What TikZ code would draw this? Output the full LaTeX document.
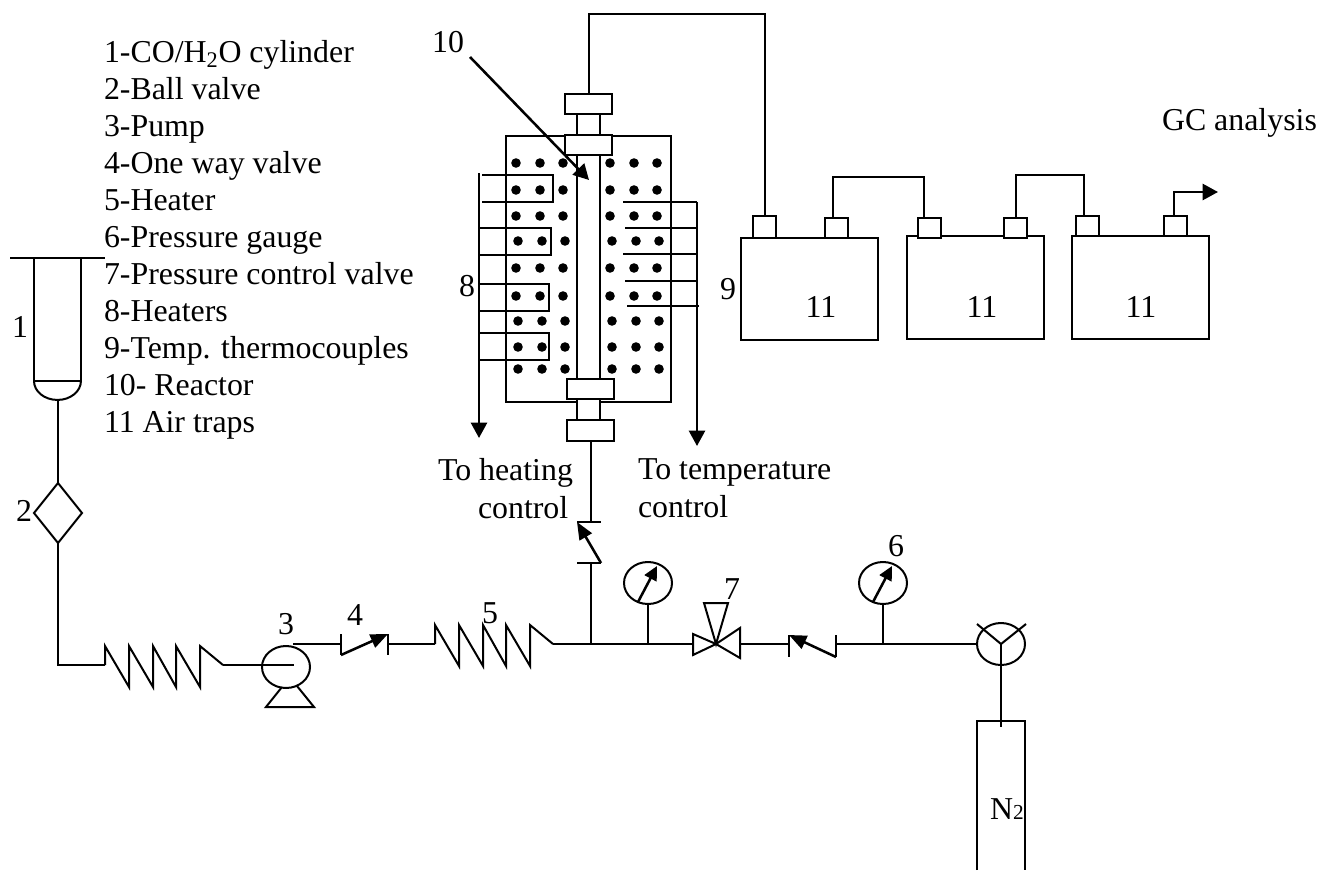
\documentclass[tikz,border=0pt]{standalone}
\usepackage{fontspec}
\setmainfont{Liberation Serif}
\usetikzlibrary{arrows.meta,shapes.geometric}
\tikzset{
  every node/.style={inner sep=0pt,outer sep=0pt,font=\fontsize{23.9}{27}\selectfont},
  pipe/.style={line width=1.5pt},
  flow/.style={line width=1.9pt,-{Triangle[length=11.5pt,width=12pt]}},
  pointer/.style={line width=1.9pt,-{Triangle[length=10.5pt,width=10pt]}},
  checkarrow/.style={line width=1.9pt,-{Triangle[length=13pt,width=10.5pt]}},
  part/.style 2 args={draw,line width=1.5pt,fill=white,rectangle,minimum width=#1*.75pt,minimum height=#2*.75pt},
  dial/.style={draw,line width=1.5pt,ellipse,minimum width=36pt,minimum height=31.5pt},
  txt/.style={anchor=base west},
  pics/coil/.style={code={
    \draw[pipe] (0,0) -- (0,-19) -- (24,22) -- (24,-19) -- (48,22) -- (48,-19) -- (71,22) -- (71,-19) -- (95,22) -- (95,-19) -- (118,0);
    \coordinate (-in) at (0,0);
    \coordinate (-out) at (118,0);
  }}
}

\begin{document}
\begin{tikzpicture}[x=.75pt,y=-.75pt]
  \useasboundingbox (0,0) rectangle (1319,870);

  \foreach \i/\t in {1/{1-CO/H\textsubscript{2}O cylinder},2/2-Ball valve,3/3-Pump,4/4-One way valve,5/5-Heater,
    6/6-Pressure gauge,7/7-Pressure control valve,8/8-Heaters,9/9-Temp. thermocouples,10/10- Reactor,11/11 Air traps}
  {
    \node (item\i) [txt] at (104,{63+36.9*(\i-1)}) {\t};
  }

  % feed cylinder and ball valve
  \node (cylinder) [part={47}{123}] at (57.5,319.5) {};
  \draw[pipe] (cylinder.south west) arc[start angle=180,end angle=360,x radius=17.6pt,y radius=14.2pt];
  \draw[line width=1.9pt] (10,258) -- (cylinder.north west) (cylinder.north east) -- (105,258);
  \coordinate (domebottom) at (58,400);
  \node (ball) [draw,line width=1.5pt,diamond,minimum width=36pt,minimum height=45pt] at (58,513) {};
  \draw[pipe] (domebottom) -- (ball.north);
  \pic (coilA) at (105,665) {coil};
  \draw[pipe] (ball.south) |- (coilA-in);

  % pump
  \node (pump) [dial] at (286,667) {};
  \coordinate (pumpin) at (294,665);
  \coordinate (pumpout) at (293,644);
  \draw[pipe] (coilA-out) -- (pumpin);
  \draw[pipe] (282,687) -- (266,707) -- (314,707) -- (297,686);

  % check valves
  \coordinate (checkAin) at (341,644);
  \coordinate (checkAout) at (388,644);
  \draw[pipe] (pumpout) -- (checkAin);
  \draw[pipe] (341,634) -- (341,655);
  \draw[checkarrow] (341,655) -- (388,634);
  \draw[pipe] (388,634) -- (388,655);
  \pic (coilB) at (435,644) {coil};
  \draw[pipe] (checkAout) -- (coilB-in);

  % main line
  \coordinate (teeA) at (591,644);
  \coordinate (valvein) at (693,644);
  \coordinate (valveout) at (740,644);
  \coordinate (valve) at (716,644);
  \draw[pipe] (coilB-out) -- (valvein);
  \draw[pipe] (693,634) -- (693,655) -- (valve) -- cycle;
  \draw[pipe] (740,628) -- (740,658) -- (valve) -- cycle;
  \draw[pipe] (704,603) -- (728,603) -- (valve) -- cycle;
  \coordinate (checkBin) at (789,644);
  \coordinate (checkBout) at (836,644);
  \draw[pipe] (valveout) -- (checkBin);
  \draw[pipe] (789,635) -- (789,657);
  \draw[checkarrow] (836,657) -- (789,635);
  \draw[pipe] (836,635) -- (836,657);
  \node (threeway) [dial] at (1001,644) {};
  \draw[pipe] (checkBout) -- (threeway.west);
  \draw[pipe] (977,624) -- (threeway.center) -- (1026,624);

  % gauges
  \foreach \g/\x in {gaugeA/648,gaugeB/883}
  {
    \node (\g) [dial] at (\x,583) {};
    \coordinate (\g foot) at (\x,644);
    \draw[pipe] (\g.south) -- (\g foot);
    \draw[pointer] ([shift={(-10,19)}]\g.center) -- ([shift={(9,-17)}]\g.center);
  }

  % nitrogen
  \coordinate (ntop) at (1001,727);
  \draw[pipe] (threeway.center) -- (ntop);
  \draw[pipe] (977,870) -- (977,721) -- (1025,721) -- (1025,870);
  \node (nitrogen) [txt] at (990,819) {N{\fontsize{16}{16}\selectfont 2}};

  % reactor
  \node (furnace) [part={165}{266}] at (588.5,269) {};
  \node (tube) [part={23}{224}] at (588.5,267) {};
  \foreach \y/\d in {163/0,190/0,216/0,241/2,268/0,296/0,321/2,347/2,369/2}
    \foreach \x in {516,540,563,610,634,657}
      \fill (\x+\d,\y) circle[radius=3.6pt];
  \node (flangeA) [part={47}{20}] at (588.5,104) {};
  \node (neckA) [part={23}{21}] at (588.5,125) {};
  \node (flangeB) [part={47}{20}] at (588.5,145) {};
  \node (flangeC) [part={47}{20}] at (590.5,389) {};
  \node (neckB) [part={23}{21}] at (588.5,409.5) {};
  \node (flangeD) [part={47}{21}] at (590.5,430.5) {};

  % heaters
  \draw[flow] (479,173) -- (479,438);
  \draw[pipe] (482,175) -- (553,175) -- (553,202) -- (482,202);
  \draw[pipe] (479,228) -- (551,228) -- (551,255) -- (479,255);
  \draw[pipe] (479,284) -- (549,284) -- (549,311) -- (479,311);
  \draw[pipe] (479,333) -- (549,333) -- (549,360) -- (479,360);

  % thermocouples
  \draw[flow] (697,202) -- (697,446);
  \draw[pipe] (623,202) -- (697,202);
  \draw[pipe] (625,228) -- (697,228);
  \draw[pipe] (623,254) -- (697,254);
  \draw[pipe] (625,281) -- (697,281);
  \draw[pipe] (627,306) -- (699,306);

  % inlet valve under the reactor
  \coordinate (checkCout) at (590.5,522);
  \coordinate (checkCin) at (591,563);
  \draw[pipe] (flangeD.south) -- (checkCout);
  \draw[pipe] (577,522) -- (601,522);
  \draw[checkarrow] (601,563) -- (577,522);
  \draw[pipe] (577,563) -- (601,563);
  \draw[pipe] (checkCin) -- (teeA);

  % air traps
  \node (trapA) [part={137}{102}] at (809.5,289) {};
  \node (trapB) [part={137}{103}] at (975.5,287.5) {};
  \node (trapC) [part={137}{103}] at (1140.5,287.5) {};
  \node (portA) [part={23}{22}] at (764.5,227) {};
  \node (portB) [part={23}{20}] at (836.5,228) {};
  \node (portC) [part={23}{20}] at (929.5,228) {};
  \node (portD) [part={23}{20}] at (1015.5,228) {};
  \node (portE) [part={23}{20}] at (1087.5,226) {};
  \node (portF) [part={23}{20}] at (1175.5,226) {};
  \draw[pipe] (flangeA.north) -- ++(0,-80) -| (portA.north);
  \draw[pipe] ([xshift=-2.6pt]portB.north) -- ++(0,-41) -| ([xshift=-4pt]portC.north);
  \draw[pipe] (portD.north) -- ++(0,-43) -| ([xshift=-2.6pt]portE.north);
  \coordinate (gcout) at (1218,192);
  \draw[flow] ([xshift=-1pt]portF.north) |- (gcout);

  % reactor arrow
  \node (numTen) at (448,42) {10};
  \coordinate (tenstart) at (470,57);
  \coordinate (tenend) at (589,180);
  \draw[flow] (tenstart) -- (tenend);

  \node (numOne) at (20,327) {1};
  \node (numTwo) at (24,511) {2};
  \node (numThree) at (286,624) {3};
  \node (numFour) at (355,615) {4};
  \node (numFive) at (490,613) {5};
  \node (numSix) at (896,546) {6};
  \node (numSeven) at (732,589) {7};
  \node (numEight) at (467,286) {8};
  \node (numNine) at (728,289) {9};
  \node (numTrapA) at (821,307) {11};
  \node (numTrapB) at (982,307) {11};
  \node (numTrapC) at (1141,307) {11};

  \node (gclabel) [txt] at (1162,131) {GC analysis};
  \node (heatlabel) [txt] at (438,480) {To heating};
  \node (heatlabelb) [txt] at (478,518) {control};
  \node (templabel) [txt] at (638,479) {To temperature};
  \node (templabelb) [txt] at (638,517) {control};
\end{tikzpicture}
\end{document}
